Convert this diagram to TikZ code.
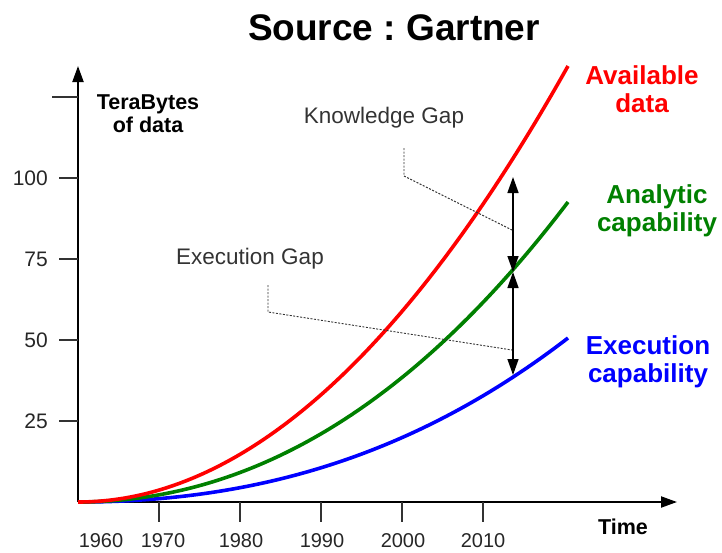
\documentclass[tikz,border=0pt]{standalone}
\usepackage{fontspec}
\setmainfont{Liberation Sans}
\usetikzlibrary{arrows.meta}
\definecolor{cgreen}{RGB}{0,128,0}
\frenchspacing
\begin{document}
\begin{tikzpicture}[x=1pt,y=-1pt,
  axis/.style={line width=2pt,black},
  tick/.style={line width=1.6pt,black!80},
  curve/.style={line width=3.6pt},
  gap/.style={line width=1.4pt,{Triangle[length=16pt,width=11pt]}-{Triangle[length=16pt,width=11pt]}},
  leader/.style={line width=0.9pt,dash pattern=on 2pt off 1.5pt,black!80},
  num/.style={font=\fontsize{21}{24}\selectfont,text=black!85,inner sep=0pt},
  gaplbl/.style={font=\fontsize{22.5}{26}\selectfont,text=black!80,inner sep=0pt},
  big/.style={font=\fontsize{26}{30}\selectfont\bfseries,align=center,inner sep=0pt},
  axlbl/.style={font=\fontsize{21.5}{26}\selectfont\bfseries,align=center,inner sep=0pt}]
\useasboundingbox (0,0) rectangle (722,552);
% title
\node[font=\fontsize{37}{40}\selectfont\bfseries,anchor=base,inner sep=0pt] (title) at (394,40) {Source : Gartner};
% axes
\coordinate (O) at (78,502);
\coordinate (ytop) at (78,66);
\coordinate (xend) at (677,502);
\draw[axis,-{Triangle[length=16pt,width=11pt]}] (O) -- (ytop);
\draw[axis,-{Triangle[length=16pt,width=11pt]}] (O) -- (xend);
% y ticks
\foreach \yy/\lab in {178/100,259/75,340/50,421/25}{
  \draw[tick] (59,\yy) -- (78,\yy);
  \node[num,anchor=east] at (48,\yy) {\lab};
}
\draw[tick] (52,97) -- (78,97);
% x ticks
\foreach \xx in {159,240,321,402,483}{
  \draw[tick] (\xx,502) -- (\xx,522);
}
\foreach \xx/\lab in {101/1960,163/1970,241/1980,322/1990,403/2000,483/2010}{
  \node[font=\fontsize{20}{24}\selectfont,text=black!85,inner sep=0pt] at (\xx,541) {\lab};
}
% axis labels
\node[axlbl] (ylab) at (148,114) {TeraBytes\\[-3pt]of data};
\node[axlbl] (tlab) at (623,527) {Time};
% curves
\draw[curve,blue] plot[domain=0:490,samples=60,smooth] ({78+\x},{502-164*(0.7*(\x/490)^2+0.3*(\x/490)^3)});
\draw[curve,cgreen] plot[domain=0:490,samples=60,smooth] ({78+\x},{502-300*(0.85*(\x/490)^2+0.15*(\x/490)^3)});
\draw[curve,red] plot[domain=0:490,samples=60,smooth] ({78+\x},{502-436*(\x/490)^2});
% gap arrows
\coordinate (k1) at (513,177);
\coordinate (k2) at (513,272);
\coordinate (k3) at (513,375);
\draw[gap] (k1) -- (k2);
\draw[gap] (k2) -- (k3);
% leaders
\coordinate (kl1) at (404,148);
\coordinate (kl2) at (404,176);
\coordinate (kl3) at (512,230);
\draw[leader] (kl1) -- (kl2) -- (kl3);
\coordinate (el1) at (268,285);
\coordinate (el2) at (268,312);
\coordinate (el3) at (512,350);
\draw[leader] (el1) -- (el2) -- (el3);
% gap labels
\node[gaplbl,anchor=base] (kg) at (384,123) {Knowledge Gap};
\node[gaplbl,anchor=base] (eg) at (250,264) {Execution Gap};
% series labels
\node[big,text=red] (avail) at (642,89) {Available\\[-2pt]data};
\node[big,text=cgreen] (anal) at (657,211) {Analytic\\[-2pt]capability};
\node[big,text=blue] (exec) at (648,362) {Execution\\[-2pt]capability};
\end{tikzpicture}
\end{document}
